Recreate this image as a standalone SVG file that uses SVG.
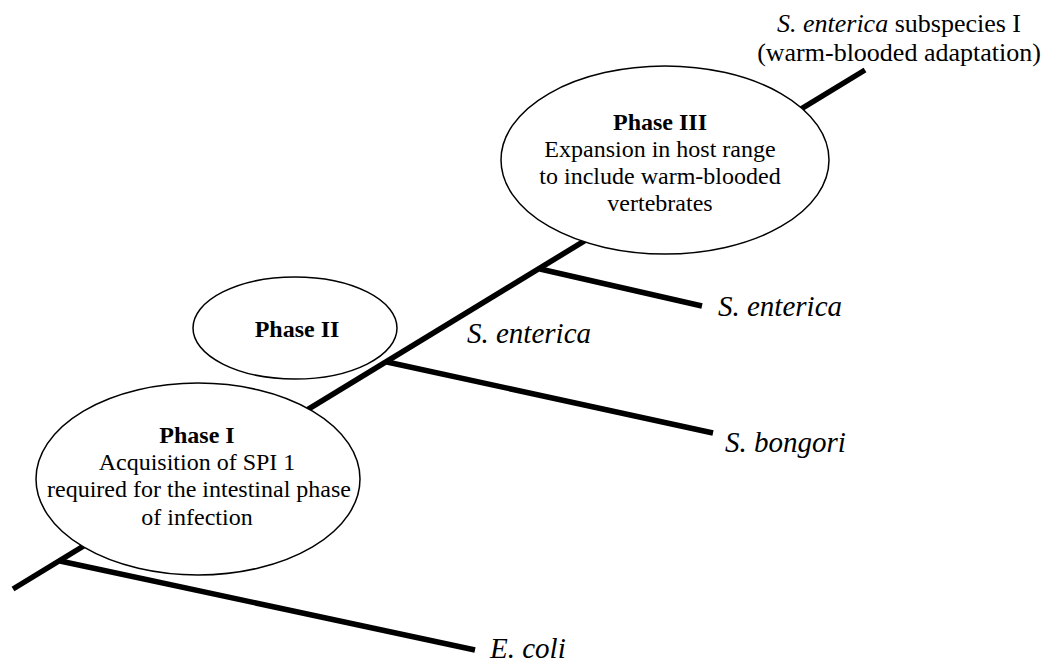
<svg xmlns="http://www.w3.org/2000/svg" width="1059" height="664" viewBox="0 0 1059 664">
<style>
.br{stroke:#000;stroke-width:5.5;fill:none;stroke-linecap:butt}
.el{fill:#fff;stroke:#000;stroke-width:1.5}
.t{font-family:"Liberation Serif","Times New Roman",serif;font-size:24px;fill:#000;text-anchor:middle}
.b{font-weight:bold}
.lab{font-family:"Liberation Serif","Times New Roman",serif;font-size:29px;font-style:italic;fill:#000}
.top{font-family:"Liberation Serif","Times New Roman",serif;font-size:26px;fill:#000;text-anchor:middle}
</style>
<rect width="1059" height="664" fill="#fff"/>
<g id="connectors">
<line class="br" x1="13" y1="589" x2="865" y2="70"/>
<line class="br" x1="60" y1="561" x2="475" y2="650"/>
<line class="br" x1="387" y1="362" x2="713" y2="433"/>
<line class="br" x1="540" y1="269" x2="702" y2="306"/>
</g>
<g id="phase1">
<ellipse class="el" cx="198" cy="479" rx="162" ry="96"/>
<text class="t b" x="197" y="443">Phase I</text>
<text class="t" x="197" y="470">Acquisition of SPI 1</text>
<text class="t" x="199" y="497">required for the intestinal phase</text>
<text class="t" x="197" y="525">of infection</text>
</g>
<g id="phase2">
<ellipse class="el" cx="295" cy="328" rx="102" ry="51"/>
<text class="t b" x="297" y="337">Phase II</text>
</g>
<g id="phase3">
<ellipse class="el" cx="665" cy="160" rx="164" ry="94"/>
<text class="t b" x="660" y="130">Phase III</text>
<text class="t" x="660" y="157">Expansion in host range</text>
<text class="t" x="660" y="184">to include warm-blooded</text>
<text class="t" x="660" y="211">vertebrates</text>
</g>
<g id="label-subspI">
<text class="top" x="899" y="32"><tspan font-style="italic">S. enterica</tspan> subspecies I</text>
<text class="top" x="899" y="61">(warm-blooded adaptation)</text>
</g>
<g id="label-enterica-mid"><text class="lab" x="467" y="343">S. enterica</text></g>
<g id="label-enterica"><text class="lab" x="718" y="316">S. enterica</text></g>
<g id="label-bongori"><text class="lab" x="725" y="452">S. bongori</text></g>
<g id="label-ecoli"><text class="lab" x="490" y="658">E. coli</text></g>
</svg>
